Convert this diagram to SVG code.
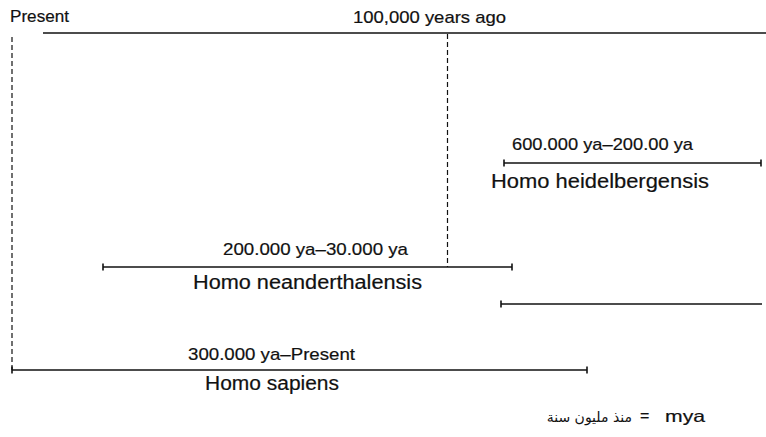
<svg xmlns="http://www.w3.org/2000/svg" width="766" height="437" viewBox="0 0 766 437">
<style>
.t{font-family:"Liberation Sans",Arial,sans-serif;fill:#111;stroke:#111;stroke-width:0.2;}
.d{font-size:17px;}
.s{font-size:20px;}
.ln{stroke:#111;stroke-width:1.6;fill:none;}
.tk{stroke:#111;stroke-width:1.6;}
.dash{stroke:#111;stroke-width:1.2;fill:none;stroke-dasharray:5 3;}
</style>
<rect width="766" height="437" fill="#fff"/>
<g id="axis">
<text class="t d" x="10" y="22" textLength="59" lengthAdjust="spacingAndGlyphs">Present</text>
<text class="t d" x="353" y="23" textLength="153" lengthAdjust="spacingAndGlyphs">100,000 years ago</text>
<line class="ln" x1="43" y1="33" x2="766" y2="33"/>
</g>
<g id="connectors">
<line class="dash" x1="12" y1="37" x2="12" y2="370"/>
<line class="dash" x1="447.5" y1="34" x2="447.5" y2="267"/>
</g>
<g id="heidelbergensis">
<text class="t d" x="512" y="150" textLength="181" lengthAdjust="spacingAndGlyphs">600.000 ya–200.00 ya</text>
<line class="ln" x1="504" y1="163" x2="761" y2="163"/>
<line class="tk" x1="504" y1="159.5" x2="504" y2="166.5"/>
<line class="tk" x1="761" y1="159.5" x2="761" y2="166.5"/>
<text class="t s" x="491" y="188" textLength="218" lengthAdjust="spacingAndGlyphs">Homo heidelbergensis</text>
</g>
<g id="neanderthalensis">
<text class="t d" x="223" y="255" textLength="185" lengthAdjust="spacingAndGlyphs">200.000 ya–30.000 ya</text>
<line class="ln" x1="103" y1="267" x2="512" y2="267"/>
<line class="tk" x1="103" y1="263.5" x2="103" y2="270.5"/>
<line class="tk" x1="512" y1="263.5" x2="512" y2="270.5"/>
<text class="t s" x="193" y="289" textLength="229" lengthAdjust="spacingAndGlyphs">Homo neanderthalensis</text>
</g>
<g id="unnamed-range">
<line class="ln" x1="501" y1="304" x2="762" y2="304"/>
<line class="tk" x1="501" y1="300.5" x2="501" y2="307.5"/>
</g>
<g id="sapiens">
<text class="t d" x="188" y="360" textLength="167" lengthAdjust="spacingAndGlyphs">300.000 ya–Present</text>
<line class="ln" x1="12" y1="370" x2="587" y2="370"/>
<line class="tk" x1="12" y1="366.5" x2="12" y2="373.5"/>
<line class="tk" x1="587" y1="366.5" x2="587" y2="373.5"/>
<text class="t s" x="205" y="390" textLength="134" lengthAdjust="spacingAndGlyphs">Homo sapiens</text>
</g>
<g id="legend">
<text x="632" y="422" text-anchor="end" style="font-family:'DejaVu Sans',sans-serif;font-size:14px;fill:#111;">منذ مليون سنة</text>
<text class="t" x="640" y="421" style="font-size:16px;">=</text>
<text class="t" x="665" y="422" style="font-size:16.5px;" textLength="40" lengthAdjust="spacingAndGlyphs">mya</text>
</g>
</svg>
